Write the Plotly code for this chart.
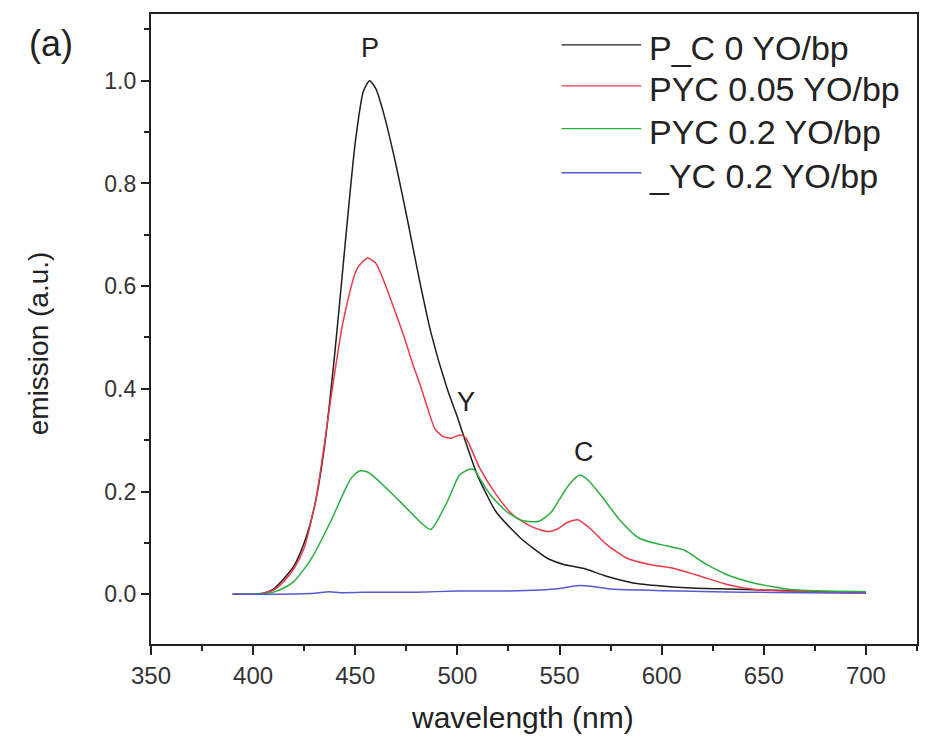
import plotly.graph_objects as go

# Emission spectra (normalised) — wavelength in nm
wl_pc0 = [390, 400, 405, 410, 415, 420, 425, 430, 435, 440, 445, 450, 454, 457, 460, 464,
          470, 476, 481, 487, 495, 500, 505, 510, 519, 531, 544, 552, 557, 562, 573, 586, 600,
          615, 632, 660, 680, 700]
em_pc0 = [0, 0, 0.002, 0.01, 0.03, 0.055, 0.1, 0.17, 0.29, 0.47, 0.68, 0.88, 0.98, 1.0, 0.985, 0.935,
          0.835, 0.72, 0.62, 0.51, 0.40, 0.345, 0.285, 0.23, 0.16, 0.109, 0.07, 0.058, 0.054, 0.05, 0.035,
          0.022, 0.016, 0.012, 0.01, 0.007, 0.005, 0.004]

wl_pyc005 = [390, 400, 405, 410, 415, 420, 425, 431, 438, 444, 451, 456, 460, 464, 468, 474,
             478, 482, 486, 489, 493, 497, 501, 504, 511, 519, 527, 536, 544, 549, 554, 559,
             565, 573, 583, 594, 606, 619, 632, 646, 670, 700]
em_pyc005 = [0, 0, 0.002, 0.008, 0.025, 0.05, 0.09, 0.19, 0.38, 0.53, 0.635, 0.655, 0.645, 0.61, 0.567, 0.50,
             0.45, 0.405, 0.355, 0.322, 0.307, 0.304, 0.31, 0.305, 0.245, 0.194, 0.155, 0.132, 0.122, 0.127, 0.14, 0.145,
             0.128, 0.097, 0.07, 0.058, 0.05, 0.035, 0.019, 0.009, 0.005, 0.003]

wl_pyc02 = [390, 400, 405, 410, 415, 420, 428, 438, 444, 448, 452, 456, 460, 465, 470, 476,
            482, 487, 495, 501, 505, 508, 511, 516, 524, 532, 540, 546, 550, 555, 560, 564,
            570, 580, 589, 599, 605, 611, 622, 632, 645, 663, 680, 700]
em_pyc02 = [0, 0, 0.001, 0.004, 0.012, 0.025, 0.066, 0.142, 0.195, 0.226, 0.24, 0.238, 0.226, 0.207, 0.188, 0.164,
            0.14, 0.126, 0.18, 0.232, 0.242, 0.243, 0.225, 0.194, 0.161, 0.143, 0.142, 0.16, 0.185, 0.215, 0.232, 0.222,
            0.194, 0.142, 0.109, 0.097, 0.092, 0.086, 0.058, 0.038, 0.022, 0.009, 0.006, 0.005]

wl_yc02 = [390, 400, 410, 430, 437, 443, 460, 480, 500, 520, 540, 550, 556, 560, 566, 575,
           590, 610, 640, 670, 700]
em_yc02 = [0, 0, 0, 0.002, 0.005, 0.003, 0.004, 0.004, 0.006, 0.006, 0.008, 0.011, 0.015, 0.017, 0.015, 0.01,
           0.008, 0.006, 0.004, 0.003, 0.002]

series_names = ["P_C 0 YO/bp", "PYC 0.05 YO/bp", "PYC 0.2 YO/bp", "_YC 0.2 YO/bp"]
series_colors = ["#1e1e1e", "#ea3b4a", "#2aae3e", "#5858d0"]
series_x = [wl_pc0, wl_pyc005, wl_pyc02, wl_yc02]
series_y = [em_pc0, em_pyc005, em_pyc02, em_yc02]

peak_labels = ["P", "Y", "C"]
peak_x = [457.3, 504.3, 562.0]
peak_y = [1.063, 0.374, 0.277]

x_ticks = [350, 400, 450, 500, 550, 600, 650, 700]
y_ticks = [0.0, 0.2, 0.4, 0.6, 0.8, 1.0]

FONT = "Liberation Sans, Arial, sans-serif"
INK = "#222222"

fig = go.Figure()
for xs, ys, name, col in zip(series_x, series_y, series_names, series_colors):
    fig.add_trace(go.Scatter(
        x=xs, y=ys, name=name, mode="lines",
        line=dict(color=col, width=1.5, shape="spline", smoothing=0.6),
        showlegend=False,
    ))

# peak letters
for t, px, py in zip(peak_labels, peak_x, peak_y):
    fig.add_annotation(x=px, y=py, xref="x", yref="y", text=t, showarrow=False,
                       xanchor="center", yanchor="middle",
                       font=dict(family=FONT, size=27, color=INK))

# legend drawn as line samples plus labels
leg_line_y = [0.951, 0.886, 0.818, 0.748]
leg_text_y = [0.946, 0.881, 0.813, 0.743]
for name, col, ly, ty in zip(series_names, series_colors, leg_line_y, leg_text_y):
    fig.add_shape(type="line", xref="paper", yref="paper",
                  x0=0.536, x1=0.640, y0=ly, y1=ly,
                  line=dict(color=col, width=1.3))
    fig.add_annotation(x=0.648, y=ty, xref="paper", yref="paper", text=name,
                       showarrow=False, xanchor="left", yanchor="middle",
                       font=dict(family=FONT, size=34, color=INK))

# panel tag and axis titles
fig.add_annotation(x=-0.131, y=0.953, xref="paper", yref="paper", text="(a)",
                   xanchor="center", yanchor="middle",
                   showarrow=False, font=dict(family=FONT, size=36, color=INK))
fig.add_annotation(x=-0.147, y=0.478, xref="paper", yref="paper", text="emission (a.u.)",
                   xanchor="center", yanchor="middle",
                   textangle=-90, showarrow=False, font=dict(family=FONT, size=28, color=INK))
fig.add_annotation(x=0.485, y=-0.117, xref="paper", yref="paper", text="wavelength (nm)",
                   xanchor="center", yanchor="middle",
                   showarrow=False, font=dict(family=FONT, size=30, color=INK))

fig.update_xaxes(
    range=[350, 725], tickvals=x_ticks, ticks="outside", ticklen=9, tickwidth=1.8,
    tickcolor=INK, showline=True, linewidth=2.2, linecolor=INK, mirror=True,
    showgrid=False, zeroline=False,
    tickfont=dict(family=FONT, size=24, color="#333333"),
    minor=dict(dtick=25, tick0=350, ticks="outside", ticklen=5, tickwidth=1.8, tickcolor=INK),
)
fig.update_yaxes(
    range=[-0.097, 1.13], tickvals=y_ticks, tickformat=".1f", ticks="outside", ticklen=8,
    tickwidth=1.8, tickcolor=INK, showline=True, linewidth=2.2, linecolor=INK, mirror=True,
    showgrid=False, zeroline=False,
    tickfont=dict(family=FONT, size=23, color="#333333"),
    minor=dict(dtick=0.1, tick0=0, ticks="outside", ticklen=5, tickwidth=1.8, tickcolor=INK),
)

fig.update_layout(
    width=932, height=754,
    margin=dict(l=151, r=15, t=12, b=110),
    paper_bgcolor="white", plot_bgcolor="white",
    showlegend=False,
)

fig.write_html("out.html")
